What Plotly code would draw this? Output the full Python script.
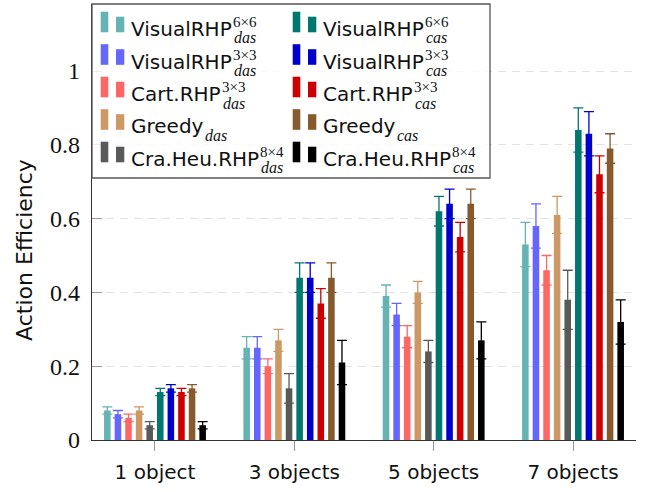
import plotly.graph_objects as go

# ---- data -------------------------------------------------------------
groups = ["1 object", "3 objects", "5 objects", "7 objects"]

visual66_das = [0.08, 0.25, 0.39, 0.53]
visual33_das = [0.07, 0.25, 0.34, 0.58]
cart33_das = [0.06, 0.20, 0.28, 0.46]
greedy_das = [0.08, 0.27, 0.40, 0.61]
craheu84_das = [0.04, 0.14, 0.24, 0.38]
visual66_cas = [0.13, 0.44, 0.62, 0.84]
visual33_cas = [0.14, 0.44, 0.64, 0.83]
cart33_cas = [0.13, 0.37, 0.55, 0.72]
greedy_cas = [0.14, 0.44, 0.64, 0.79]
craheu84_cas = [0.04, 0.21, 0.27, 0.32]

visual66_das_err = [0.01, 0.03, 0.03, 0.06]
visual33_das_err = [0.01, 0.03, 0.03, 0.06]
cart33_das_err = [0.01, 0.02, 0.03, 0.04]
greedy_das_err = [0.01, 0.03, 0.03, 0.05]
craheu84_das_err = [0.01, 0.04, 0.03, 0.08]
visual66_cas_err = [0.01, 0.04, 0.04, 0.06]
visual33_cas_err = [0.01, 0.04, 0.04, 0.06]
cart33_cas_err = [0.01, 0.04, 0.04, 0.05]
greedy_cas_err = [0.01, 0.04, 0.04, 0.04]
craheu84_cas_err = [0.01, 0.06, 0.05, 0.06]

y_ticks = [0, 0.2, 0.4, 0.6, 0.8, 1.0]
y_tick_labels = ["0", "0.2", "0.4", "0.6", "0.8", "1"]

# (base name, superscript, subscript, values, errors, colour)
series = [
    ("VisualRHP", "6×6", "das", visual66_das, visual66_das_err, "#66b3b3"),
    ("VisualRHP", "3×3", "das", visual33_das, visual33_das_err, "#6666ff"),
    ("Cart.RHP", "3×3", "das", cart33_das, cart33_das_err, "#ff6666"),
    ("Greedy", None, "das", greedy_das, greedy_das_err, "#cc9966"),
    ("Cra.Heu.RHP", "8×4", "das", craheu84_das, craheu84_das_err, "#595959"),
    ("VisualRHP", "6×6", "cas", visual66_cas, visual66_cas_err, "#00786f"),
    ("VisualRHP", "3×3", "cas", visual33_cas, visual33_cas_err, "#0000cc"),
    ("Cart.RHP", "3×3", "cas", cart33_cas, cart33_cas_err, "#cc0000"),
    ("Greedy", None, "cas", greedy_cas, greedy_cas_err, "#865a2d"),
    ("Cra.Heu.RHP", "8×4", "cas", craheu84_cas, craheu84_cas_err, "#000000"),
]

# ---- layout geometry (pixels) ----------------------------------------
W, H = 652, 492
PL, PR, PT, PB = 92, 636, 4, 440
Y_TOP = 436 / 369.0


def px(x):
    return (x - PL) / (PR - PL)


def py(y):
    return (PB - y) / (PB - PT)


SANS = "DejaVu Sans"
SERIF = "Liberation Serif"

fig = go.Figure()
for base, sup, sub, vals, errs, col in series:
    fig.add_trace(go.Bar(
        x=groups, y=vals, name=f"{base}{sup or ''}{sub}",
        marker=dict(color=col, line=dict(width=0)),
        error_y=dict(type="data", array=errs, visible=True,
                     color=col, thickness=1.3, width=5),
        showlegend=False,
    ))

fig.update_layout(
    width=W, height=H,
    margin=dict(l=PL, r=W - PR, t=PT, b=H - PB),
    plot_bgcolor="white", paper_bgcolor="white",
    barmode="group", bargap=0.24, bargroupgap=0.38,
    font=dict(family=SANS, size=20, color="#111"),
    xaxis=dict(
        type="category", range=[-0.452, 3.452],
        showline=True, linecolor="#333", linewidth=1.3,
        ticks="outside", ticklen=10, tickcolor="#999", tickwidth=1.2,
        showgrid=False, tickfont=dict(family=SANS, size=20),
        ticklabelstandoff=4,
    ),
    yaxis=dict(
        range=[0, Y_TOP], tickvals=y_ticks, ticktext=y_tick_labels,
        showline=True, linecolor="#333", linewidth=1.3,
        ticks="inside", ticklen=10, tickcolor="#999", tickwidth=1.2,
        showgrid=True, gridcolor="#e2e2e2", gridwidth=1, griddash="8px,6px",
        zeroline=False, ticklabelstandoff=6,
        tickfont=dict(family=SERIF, size=24),
    ),
)

shapes = []
annotations = []

# legend frame (semi-transparent white, grid shows through)
shapes.append(dict(type="rect", xref="paper", yref="paper", layer="above",
                   x0=px(92), x1=px(490), y0=py(178), y1=py(4),
                   fillcolor="rgba(255,255,255,0.82)",
                   line=dict(color="#555", width=1.3)))

ROW_STEP = 32.5
COL_STEP = 192
base_widths = {"VisualRHP": 102, "Cart.RHP": 91, "Greedy": 73, "Cra.Heu.RHP": 129}

for i, (base, sup, sub, vals, errs, col) in enumerate(series):
    c = 0 if sub == "das" else 1
    r = i % 5
    dx = c * COL_STEP
    dy = r * ROW_STEP
    # two-bar legend glyph
    shapes.append(dict(type="rect", xref="paper", yref="paper", layer="above",
                       x0=px(100.7 + dx), x1=px(108.3 + dx),
                       y0=py(32.3 + dy), y1=py(11.7 + dy),
                       fillcolor=col, line=dict(width=0)))
    shapes.append(dict(type="rect", xref="paper", yref="paper", layer="above",
                       x0=px(116 + dx), x1=px(124.3 + dx),
                       y0=py(32.3 + dy), y1=py(16.7 + dy),
                       fillcolor=col, line=dict(width=0)))
    tx = 129 + dx
    annotations.append(dict(xref="paper", yref="paper", x=px(tx), y=py(29 + dy),
                            xanchor="left", yanchor="middle", showarrow=False,
                            text=base, font=dict(family=SANS, size=20, color="#111")))
    sx = tx + base_widths[base]
    if sup:
        annotations.append(dict(xref="paper", yref="paper", x=px(sx), y=py(22 + dy),
                                xanchor="left", yanchor="middle", showarrow=False,
                                text=sup, font=dict(family=SERIF, size=15, color="#111")))
    annotations.append(dict(xref="paper", yref="paper", x=px(sx + 1), y=py(38 + dy),
                            xanchor="left", yanchor="middle", showarrow=False,
                            text=f"<i>{sub}</i>",
                            font=dict(family=SERIF, size=16, color="#111")))

# y-axis title
annotations.append(dict(xref="paper", yref="paper", x=px(24), y=py(250),
                        xanchor="center", yanchor="middle", showarrow=False,
                        textangle=-90, text="Action Efficiency",
                        font=dict(family=SANS, size=22, color="#111")))

fig.update_layout(shapes=shapes, annotations=annotations)
fig.write_html("out.html")
